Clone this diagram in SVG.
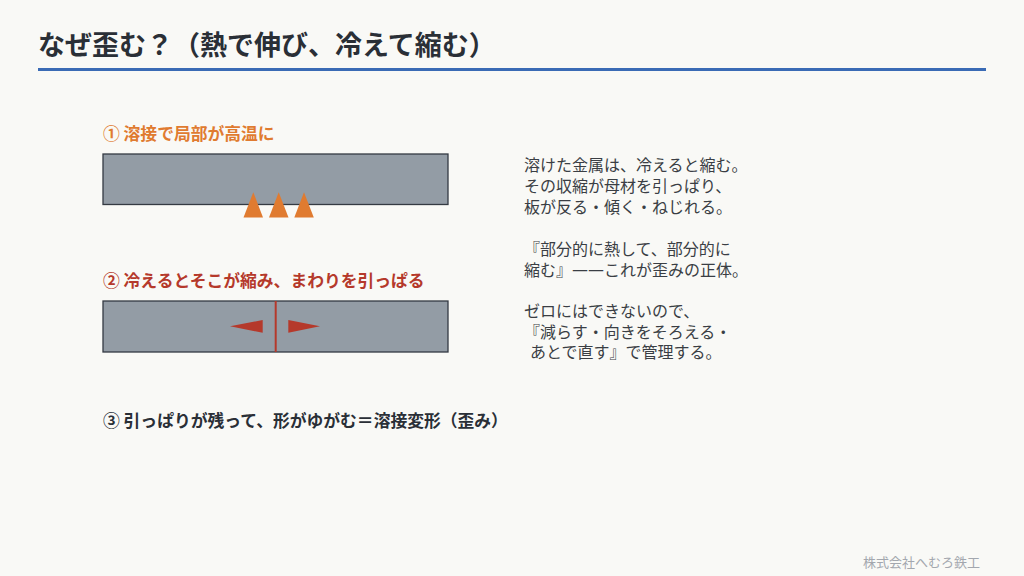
<svg xmlns="http://www.w3.org/2000/svg" width="1024" height="576" viewBox="0 0 1024 576">
<style>
text{font-family:"Noto Sans CJK JP","Noto Sans",sans-serif}
.title{font-size:27px;font-weight:700;fill:#2a2f36}
.lbl{font-size:16.8px;font-weight:700}
.body{font-size:16px;fill:#3a3e44}
.dash{font-family:"DejaVu Sans",sans-serif}
.plate{fill:#939ca5;stroke:#343a42;stroke-width:1.3}
.heat{fill:#e07b30}
.pull{fill:#b5392b}
</style>
<rect width="1024" height="576" fill="#f9f9f6"/>
<g id="header">
<text class="title" x="38" y="55">なぜ歪む？（熱で伸び、冷えて縮む）</text>
<rect x="38" y="68" width="948" height="3" fill="#3a6bb5"/>
</g>
<g id="step1">
<text class="lbl" x="103" y="140" fill="#e07b30">① 溶接で局部が高温に</text>
<rect class="plate" x="103" y="154" width="345" height="50.5"/>
<polygon class="heat" points="243.5,217.5 253.3,192.3 263,217.5"/>
<polygon class="heat" points="269,217.5 278.7,192.3 288.5,217.5"/>
<polygon class="heat" points="294.3,217.5 304,192.3 313.8,217.5"/>
</g>
<g id="step2">
<text class="lbl" x="103" y="287" fill="#b5392b">② 冷えるとそこが縮み、まわりを引っぱる</text>
<rect class="plate" x="103" y="301" width="345" height="51"/>
<line x1="275.7" y1="301" x2="275.7" y2="352" stroke="#b5392b" stroke-width="2"/>
<polygon class="pull" points="230,326.3 262.7,320 262.7,332.7"/>
<polygon class="pull" points="320,326.3 288.3,320 288.3,332.7"/>
</g>
<g id="step3">
<text class="lbl" x="103" y="427" fill="#2a2f36">③ 引っぱりが残って、形がゆがむ＝溶接変形（歪み）</text>
</g>
<g id="explanation">
<text class="body" x="524" y="171">溶けた金属は、冷えると縮む。</text>
<text class="body" x="524" y="192">その収縮が母材を引っぱり、</text>
<text class="body" x="524" y="213">板が反る・傾く・ねじれる。</text>
<text class="body" x="524" y="255">『部分的に熱して、部分的に</text>
<text class="body" x="524" y="276">縮む』<tspan class="dash" dy="-1">——</tspan><tspan dy="1">これが歪みの正体。</tspan></text>
<text class="body" x="524" y="317">ゼロにはできないので、</text>
<text class="body" x="524" y="338">『減らす・向きをそろえる・</text>
<text class="body" x="530" y="358">あとで直す』で管理する。</text>
</g>
<g id="footer">
<text x="863" y="567" font-size="13" fill="#a3a7ae">株式会社へむろ鉄工</text>
</g>
</svg>
